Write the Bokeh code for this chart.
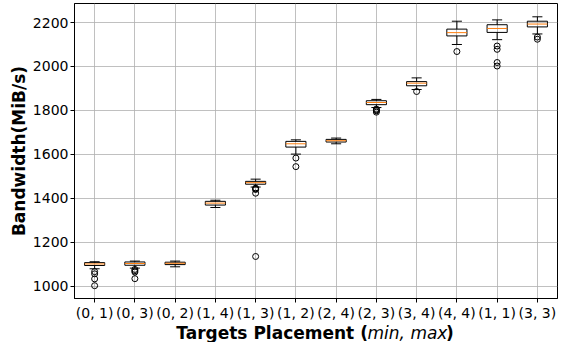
from bokeh.plotting import figure
from bokeh.layouts import column
from bokeh.models import ColumnDataSource, FixedTicker, Label, Range1d
from bokeh.embed import file_html
from bokeh.resources import INLINE

categories = ["(0, 1)", "(0, 3)", "(0, 2)", "(1, 4)", "(1, 3)", "(1, 2)",
              "(2, 4)", "(2, 3)", "(3, 4)", "(4, 4)", "(1, 1)", "(3, 3)"]
q1 = [1094, 1095, 1098, 1369, 1464, 1633, 1656, 1826, 1912, 2139, 2155, 2180]
medians = [1101, 1103, 1104, 1378, 1471, 1648, 1662, 1836, 1924, 2154, 2173, 2193]
q3 = [1107, 1110, 1109, 1386, 1477, 1659, 1668, 1844, 1931, 2170, 2190, 2206]
whisker_low = [1079, 1082, 1088, 1358, 1451, 1601, 1648, 1813, 1895, 2100, 2122, 2148]
whisker_high = [1111, 1114, 1114, 1391, 1487, 1666, 1674, 1850, 1948, 2206, 2212, 2226]
outliers = [[1066, 1056, 1033, 1002], [1076, 1070, 1064, 1034], [], [],
            [1446, 1443, 1440, 1423, 1135], [1583, 1544], [],
            [1806, 1802, 1798, 1792], [1886], [2068],
            [2093, 2078, 2018, 2002], [2134, 2124]]
y_ticks = [1000, 1200, 1400, 1600, 1800, 2000, 2200]

FONT = "DejaVu Sans"
BOX_W = 0.5
CAP_W = 0.25
W = 559
H_MAIN = 323
H_LABEL = 19
BORDER_L = 74
BORDER_R = 2

xs = list(range(1, len(categories) + 1))

src = ColumnDataSource(dict(
    x=xs, q1=q1, med=medians, q3=q3, lo=whisker_low, hi=whisker_high,
    mx0=[x - BOX_W / 2 for x in xs], mx1=[x + BOX_W / 2 for x in xs],
    cx0=[x - CAP_W / 2 for x in xs], cx1=[x + CAP_W / 2 for x in xs],
))
ox, oy = [], []
for x, outs in zip(xs, outliers):
    for v in outs:
        ox.append(x)
        oy.append(v)
osrc = ColumnDataSource(dict(x=ox, y=oy))

xr = Range1d(0.5, len(categories) + 0.5)
p = figure(width=W, height=H_MAIN, x_range=xr,
           y_range=Range1d(943.7, 2286.6),
           output_backend="svg", toolbar_location=None,
           min_border_left=BORDER_L, min_border_right=BORDER_R,
           min_border_top=3, min_border_bottom=0)

p.outline_line_color = "black"
p.outline_line_width = 1
p.background_fill_color = "white"

for g, t in ((p.xgrid, xs), (p.ygrid, y_ticks)):
    g.ticker = FixedTicker(ticks=t)
    g.grid_line_color = "#b0b0b0"
    g.grid_line_width = 0.8

p.xaxis.ticker = FixedTicker(ticks=xs)
p.xaxis.major_label_overrides = {x: c for x, c in zip(xs, categories)}
p.yaxis.ticker = FixedTicker(ticks=y_ticks)
for ax in (p.xaxis[0], p.yaxis[0]):
    ax.axis_line_color = "black"
    ax.major_tick_line_color = "black"
    ax.major_tick_in = 0
    ax.major_tick_out = 4
    ax.minor_tick_line_color = None
    ax.major_label_text_font = FONT
    ax.major_label_text_font_size = "14px"
    ax.major_label_text_color = "black"
    ax.major_label_standoff = 2

p.yaxis.axis_label = "Bandwidth(MiB/s)"
p.yaxis.axis_label_text_font = FONT
p.yaxis.axis_label_text_font_style = "bold"
p.yaxis.axis_label_text_font_size = "17px"
p.yaxis.axis_label_text_color = "black"
p.yaxis.axis_label_standoff = 1

# whiskers
p.segment(x0="x", y0="q3", x1="x", y1="hi", source=src, line_color="black", line_width=1)
p.segment(x0="x", y0="q1", x1="x", y1="lo", source=src, line_color="black", line_width=1)
# caps
p.segment(x0="cx0", y0="hi", x1="cx1", y1="hi", source=src, line_color="black", line_width=1)
p.segment(x0="cx0", y0="lo", x1="cx1", y1="lo", source=src, line_color="black", line_width=1)
# boxes
p.vbar(x="x", width=BOX_W, bottom="q1", top="q3", source=src,
       fill_color=None, line_color="black", line_width=1)
# medians
p.segment(x0="mx0", y0="med", x1="mx1", y1="med", source=src,
          line_color="#ff7f0e", line_width=1)
# outliers
p.scatter(x="x", y="y", source=osrc, marker="circle", size=6,
          fill_color=None, line_color="black", line_width=1)

# x axis label strip (bold text with italic "min, max")
q = figure(width=W, height=H_LABEL, x_range=xr, y_range=Range1d(0, 1),
           x_axis_type=None, y_axis_type=None,
           output_backend="svg", toolbar_location=None,
           min_border_left=BORDER_L, min_border_right=BORDER_R,
           min_border_top=0, min_border_bottom=0)
q.outline_line_color = None
q.xgrid.visible = False
q.ygrid.visible = False

mid = (len(categories) + 1) / 2
ly = 0.5
q.add_layout(Label(x=mid + 1.29, y=ly, text="Targets Placement (", text_align="right",
                   text_baseline="middle", text_font=FONT, text_font_style="bold",
                   text_font_size="17px", text_color="black"))
q.add_layout(Label(x=mid + 1.28, y=ly, text="min, max", text_align="left",
                   text_baseline="middle", text_font=FONT, text_font_style="italic",
                   text_font_size="17px", text_color="black"))
q.add_layout(Label(x=mid + 3.42, y=ly, text=")", text_align="right",
                   text_baseline="middle", text_font=FONT, text_font_style="bold",
                   text_font_size="17px", text_color="black"))

layout = column(p, q, spacing=0)
open("out.html", "w").write(file_html(layout, INLINE))
